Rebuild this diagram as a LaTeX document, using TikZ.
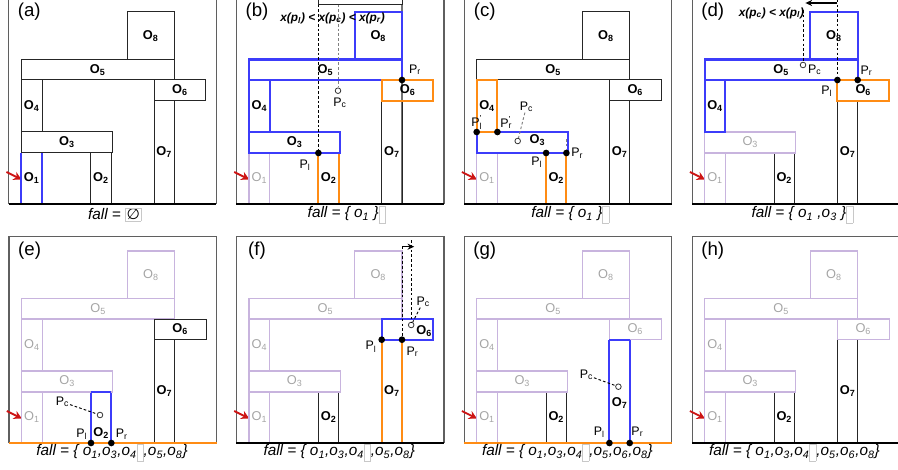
\documentclass[tikz,border=0pt]{standalone}
\usepackage{fontspec}
\setmainfont{Liberation Sans}
\newfontfamily\djv{DejaVu Sans}
\usetikzlibrary{arrows.meta}
\definecolor{hblue}{RGB}{60,60,250}
\definecolor{horange}{RGB}{255,140,20}
\definecolor{fadeline}{RGB}{200,180,222}
\definecolor{fadetext}{RGB}{165,165,165}
\definecolor{framegray}{RGB}{95,95,95}
\definecolor{boxgray}{RGB}{200,200,200}
\definecolor{arrred}{RGB}{205,20,20}
\newcommand\gbox[1]{{\fboxrule=0.4pt\fboxsep=0.6pt\color{boxgray}\fbox{\color{black}#1}}}
\newcommand\ebox{\gbox{\rule[-3.2pt]{0pt}{11.5pt}\hspace{3.2pt}}}
\newcommand\pprime[1]{P\rlap{\textsuperscript{'}}\textsubscript{#1}}
\newcommand\oo[1]{o\textsubscript{#1}}
\def\otwoy{178.5}\def\osevy{152.4}\def\osixx{179.9}\def\osixy{90.4}\def\othreex{66.9}\def\othreey{142.5}
\newcommand\scene[8]{%
 \draw[st#1] (21.3,153)--(21.3,204) (42,153)--(42,204);
 \draw[st#2] (90.7,153)--(90.7,204) (111,153)--(111,204);
 \draw[st#7] (154,100.7)--(154,204) (174.3,100.7)--(174.3,204);
 \draw[st#3] (21.3,132) rectangle (112.5,153);
 \draw[st#5] (21.3,59.5) rectangle (174.3,80);
 \draw[st#8] (127,12) rectangle (174.3,59.5);
 \draw[st#6] (154,80) rectangle (205.7,100.7);
 \draw[st#4] (21.3,80) rectangle (42,132);
 \node[lab#1] (\pn-o1) at (31.65,178.5) {O\textsubscript{1}};
 \node[lab#2] (\pn-o2) at (100.9,\otwoy) {O\textsubscript{2}};
 \node[lab#3] (\pn-o3) at (\othreex,\othreey) {O\textsubscript{3}};
 \node[lab#4] (\pn-o4) at (31.65,106) {O\textsubscript{4}};
 \node[lab#5] (\pn-o5) at (97.8,69.75) {O\textsubscript{5}};
 \node[lab#6] (\pn-o6) at (\osixx,\osixy) {O\textsubscript{6}};
 \node[lab#7] (\pn-o7) at (164.2,\osevy) {O\textsubscript{7}};
 \node[lab#8] (\pn-o8) at (150.6,35.8) {O\textsubscript{8}};
}
\newcommand\panelbase[1]{%
 \draw[framel] (8.7,204)--(8.7,-2.3)--(216.3,-2.3)--(216.3,204);
 \node[plab] (\pn-lab) at (29.3,12) {(#1)};
 \coordinate (\pn-at) at (6.5,172);
 \coordinate (\pn-ah) at (21.5,179.5);
 \draw[redarr] (\pn-at)--(\pn-ah);
}
\newcommand\ground[1]{\coordinate (\pn-g1) at (8.7,204); \coordinate (\pn-g2) at (216.3,204); \draw[#1] (\pn-g1)--(\pn-g2);}
\begin{document}
\begin{tikzpicture}[x=0.75pt,y=-0.75pt,
  stk/.style={draw=black!85,line width=0.75pt},
  stb/.style={draw=hblue,line width=1.6pt},
  sto/.style={draw=horange,line width=1.6pt},
  stf/.style={draw=fadeline,line width=0.8pt},
  labk/.style={font=\fontsize{9.6}{11}\selectfont\bfseries,text=black,inner sep=0pt},
  labb/.style={labk}, labo/.style={labk},
  labf/.style={font=\fontsize{9.6}{11}\selectfont,text=fadetext,inner sep=0pt},
  framel/.style={draw=framegray,line width=0.9pt},
  gndk/.style={draw=black,line width=2pt},
  gndo/.style={draw=horange,line width=2pt},
  plab/.style={font=\fontsize{14}{16}\selectfont,inner sep=0pt},
  ptxt/.style={font=\fontsize{9.3}{11}\selectfont,inner sep=0.5pt},
  pdot/.style={circle,fill=black,inner sep=0pt,minimum size=5pt},
  pcirc/.style={circle,draw=black!80,fill=white,inner sep=0pt,minimum size=4.2pt,line width=0.6pt},
  dsh/.style={draw=black,dash pattern=on 2pt off 1.6pt,line width=0.7pt},
  dshg/.style={draw=black!50,dash pattern=on 2pt off 1.6pt,line width=0.7pt},
  falltxt/.style={font=\fontsize{11.5}{13}\selectfont\itshape,inner sep=0pt},
  condtxt/.style={font=\fontsize{8.9}{11}\selectfont\bfseries\itshape,inner sep=0pt},
  redarr/.style={draw=arrred,line width=1.4pt,-{Stealth[length=6pt,width=6.5pt]}},
  thinarr/.style={draw=black,line width=0.8pt,-{Stealth[length=5pt,width=4.5pt]}},
  graysolid/.style={draw=black!55,line width=0.8pt}
]
\useasboundingbox (0,0) rectangle (898,470);
% ---------------- (a)
\begin{scope}[shift={(0,0)}]
 \def\pn{a}
 \panelbase{a}
 \scene{b}{k}{k}{k}{k}{k}{k}{k}
 \ground{gndk}
 \node[falltxt] (a-fall) at (114.7,214.5) {fall = \gbox{{\djv\itshape ∅}}};
\end{scope}
% ---------------- (b)
\begin{scope}[shift={(227.7,0)}]
 \def\pn{b}
 \panelbase{b}
 \draw[graysolid] (174.3,4.7) -- (174.3,204);
 \scene{f}{o}{b}{b}{b}{o}{k}{b}
 \ground{gndk}
 \coordinate (b-tl) at (90.7,-5); \coordinate (b-bl) at (90.7,4.7);
 \coordinate (b-br) at (174.3,4.7); \coordinate (b-tr) at (174.3,-5);
 \draw[stk] (b-tl) -- (b-bl) -- (b-br) -- (b-tr);
 \node[pdot] (b-pl) at (90.7,153) {};
 \node[pdot] (b-pr) at (174.3,80) {};
 \node[pcirc] (b-pc) at (110.3,90.7) {};
 \coordinate (b-pctop) at (110.3,4.7);
 \draw[dsh] (b-bl) -- (b-pl);
 \draw[dshg] (b-pctop) -- (b-pc);
 \node[ptxt] (b-lpr) at (187.3,70) {P\textsubscript{r}};
 \node[ptxt] (b-lpc) at (112.3,103) {P\textsubscript{c}};
 \node[ptxt] (b-lpl) at (77.3,165) {P\textsubscript{l}};
 \node[condtxt] (b-cond) at (104.8,18.3) {x(p\textsubscript{l}) < x(p\textsubscript{c}) < x(p\textsubscript{r})};
 \node[falltxt] (b-fall) at (119,214.5) {fall = \{ \oo{1} \}\ebox};
\end{scope}
% ---------------- (c)
\begin{scope}[shift={(455.4,0)}]
 \def\pn{c}
 \def\othreex{82}\def\othreey{140.5}
 \panelbase{c}
 \scene{f}{o}{b}{o}{k}{k}{k}{k}
 \ground{gndk}
 \node[pdot] (c-plp) at (21.3,132) {};
 \node[pdot] (c-prp) at (42,132) {};
 \node[pdot] (c-pl) at (90.7,153) {};
 \node[pdot] (c-pr) at (111,153) {};
 \node[pcirc] (c-pc) at (62.3,141) {};
 \node[ptxt] (c-lplp) at (21.5,122.5) {\pprime{l}};
 \node[ptxt] (c-lprp) at (50.9,122.5) {\pprime{r}};
 \node[ptxt] (c-lpc) at (71,106.7) {P\textsubscript{c}};
 \node[ptxt] (c-lpl) at (81.3,162.5) {P\textsubscript{l}};
 \node[ptxt] (c-lpr) at (121.8,153.3) {P\textsubscript{r}};
 \draw[dshg] (c-lpc) -- (c-pc);
 \coordinate (c-prt) at (111,139);
 \draw[dshg] (c-prt) -- (c-pr);
 \node[falltxt] (c-fall) at (115,214.5) {fall = \{ \oo{1} \}\ebox};
\end{scope}
% ---------------- (d)
\begin{scope}[shift={(683.4,0)}]
 \def\pn{d}
 \panelbase{d}
 \scene{f}{k}{f}{b}{b}{o}{k}{b}
 \ground{gndk}
 \node[pdot] (d-pl) at (154,80) {};
 \node[pdot] (d-pr) at (174.3,80) {};
 \node[pcirc] (d-pc) at (119.6,65) {};
 \coordinate (d-top) at (154,-5);
 \draw[dsh] (d-top) -- (d-pl);
 \coordinate (d-as) at (154,3); \coordinate (d-ae) at (122,3);
 \draw[thinarr] (d-as) -- (d-ae);
 \coordinate (d-pctop) at (119.6,10);
 \draw[dsh] (d-pctop) -- (d-pc);
 \node[condtxt] (d-cond) at (88,13) {x(p\textsubscript{c}) < x(p\textsubscript{l})};
 \node[ptxt] (d-lpl) at (143.3,91) {P\textsubscript{l}};
 \node[ptxt] (d-lpr) at (183,71) {P\textsubscript{r}};
 \node[ptxt] (d-lpc) at (131.3,70) {P\textsubscript{c}};
 \node[falltxt] (d-fall) at (119,214.5) {fall = \{ \oo{1} ,\oo{3} \}\ebox};
\end{scope}
% ---------------- (e)
\begin{scope}[shift={(0.3,239)}]
 \def\pn{e}
 \def\otwoy{194}
 \panelbase{e}
 \scene{f}{b}{f}{f}{f}{k}{k}{f}
 \draw[stb] (90.7,153) -- (111,153);
 \ground{gndo}
 \node[pdot] (e-pl) at (90.7,204) {};
 \node[pdot] (e-pr) at (111,204) {};
 \node[pcirc] (e-pc) at (99.7,176) {};
 \node[ptxt] (e-lpc) at (62.2,163) {P\textsubscript{c}};
 \node[ptxt] (e-lpl) at (81.4,195.2) {P\textsubscript{l}};
 \node[ptxt] (e-lpr) at (121.4,195.2) {P\textsubscript{r}};
 \draw[dsh] (e-lpc) -- (e-pc);
 \node[falltxt] (e-fall) at (111.7,213.5) {fall = \{ \oo{1},\oo{3},\oo{4}\ebox,\oo{5},\oo{8}\}};
\end{scope}
% ---------------- (f)
\begin{scope}[shift={(227.7,239)}]
 \def\pn{f}
 \def\osixx{196.5}\def\osixy{92}
 \panelbase{f}
 \scene{f}{k}{f}{f}{f}{b}{o}{f}
 \ground{gndk}
 \node[pdot] (f-pl) at (154,100.7) {};
 \node[pdot] (f-pr) at (174.3,100.7) {};
 \node[pcirc] (f-pc) at (183.5,86) {};
 \coordinate (f-t1) at (174.3,7.7);
 \coordinate (f-t2) at (183.5,1);
 \coordinate (f-ae) at (186.5,7.7);
 \draw[dsh] (f-t1) -- (f-pr);
 \draw[dsh] (f-t2) -- (f-pc);
 \draw[thinarr] (f-t1) -- (f-ae);
 \node[ptxt] (f-lpl) at (143.3,107.7) {P\textsubscript{l}};
 \node[ptxt] (f-lpr) at (184.8,112.7) {P\textsubscript{r}};
 \node[ptxt] (f-lpc) at (195.6,62.7) {P\textsubscript{c}};
 \draw[dsh] (f-lpc) -- (f-pc);
 \node[falltxt] (f-fall) at (111.5,213.5) {fall = \{ \oo{1},\oo{3},\oo{4}\ebox,\oo{5},\oo{8}\}};
\end{scope}
% ---------------- (g)
\begin{scope}[shift={(455.4,239)}]
 \def\pn{g}
 \def\osevy{164.3}
 \panelbase{g}
 \scene{f}{k}{f}{f}{f}{f}{b}{f}
 \draw[stb] (154,100.7) -- (174.3,100.7);
 \ground{gndo}
 \node[pdot] (g-pl) at (154,204) {};
 \node[pdot] (g-pr) at (174.3,204) {};
 \node[pcirc] (g-pc) at (163,147.7) {};
 \node[ptxt] (g-lpc) at (131,136) {P\textsubscript{c}};
 \node[ptxt] (g-lpl) at (144,193) {P\textsubscript{l}};
 \node[ptxt] (g-lpr) at (182,193) {P\textsubscript{r}};
 \draw[dsh] (g-lpc) -- (g-pc);
 \node[falltxt] (g-fall) at (112,213.5) {fall = \{ \oo{1},\oo{3},\oo{4}\ebox,\oo{5},\oo{6},\oo{8}\}};
\end{scope}
% ---------------- (h)
\begin{scope}[shift={(683.4,239)}]
 \def\pn{h}
 \panelbase{h}
 \scene{f}{k}{f}{f}{f}{f}{k}{f}
 \ground{gndk}
 \node[falltxt] (h-fall) at (111,213.5) {fall = \{ \oo{1},\oo{3},\oo{4}\ebox,\oo{5},\oo{6},\oo{8}\}};
\end{scope}
\end{tikzpicture}
\end{document}
